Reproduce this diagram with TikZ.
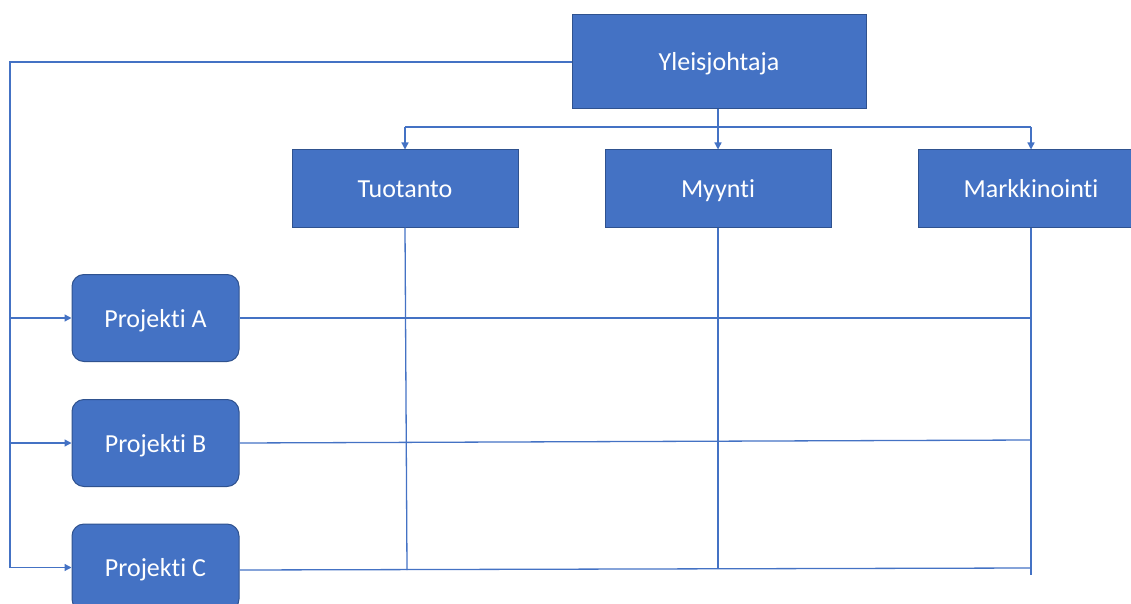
\documentclass[tikz,border=0pt]{standalone}
\usepackage{fontspec}
\setmainfont{Carlito}[Ligatures={NoCommon}]
\usetikzlibrary{arrows.meta}
\definecolor{boxfill}{HTML}{4472C4}
\definecolor{boxline}{HTML}{2F528F}
\begin{document}
\begin{tikzpicture}[x=1pt,y=-1pt,
  unit/.style={draw=boxline, fill=boxfill, line width=1pt, text=white,
    font=\fontsize{26}{30}\selectfont, inner sep=0pt, anchor=center,
    text height=22pt, text depth=4pt},
  dept/.style={unit, minimum width=226pt, minimum height=77pt},
  proj/.style={unit, rounded corners=12pt, minimum width=167pt, minimum height=87pt},
  link/.style={draw=boxfill, line width=1.3pt},
  arrow/.style={link, -{Triangle[length=7pt,width=7pt]}}]
  \useasboundingbox (0,0) rectangle (1131,604);
  \begin{scope}
    \clip (0,0) rectangle (1131,604);
    % management and departments
    \node[unit, minimum width=294pt, minimum height=94pt] (gm) at (719,62) {Yleisjohtaja};
    \node[dept] (prod) at (405,188.5) {Tuotanto};
    \node[dept] (sales) at (718,188.5) {Myynti};
    \node[dept] (mark) at (1031,188.5) {Markkinointi};
    % projects
    \node[proj] (pa) at (155.5,318) {Projekti A};
    \node[proj] (pb) at (155.5,443) {Projekti B};
    \node[proj] (pc) at (155.5,567.5) {Projekti C};
    % bus points and free ends
    \coordinate (busL) at (405,127);
    \coordinate (busR) at (1031,127);
    \coordinate (left) at (10,62);
    \coordinate (prodE) at (407,570);
    \coordinate (salesE) at (718,569);
    \coordinate (markE) at (1031,575);
    % general manager to departments
    \draw[arrow] (gm.south -| sales.north) -- (sales.north);
    \draw[link] (busL) -- (busR);
    \draw[arrow] (busL) -- (prod.north);
    \draw[arrow] (busR) -- (mark.north);
    % general manager to projects
    \draw[link] (gm.west) -- (left) -- (10,567.5);
    \draw[arrow] (10,318) -- (pa.west);
    \draw[arrow] (10,443) -- (pb.west);
    \draw[arrow] (10,567.5) -- (pc.west);
    % matrix lines
    \draw[link] (prod.south) -- (prodE);
    \draw[link] (sales.south) -- (salesE);
    \draw[link] (mark.south) -- (markE);
    \draw[link] (pa.east) -- (1031,318);
    \draw[link] (pb.east) -- (1031,440);
    \draw[link] (pc.east |- 0,570) -- (1031,568);
  \end{scope}
\end{tikzpicture}
\end{document}
